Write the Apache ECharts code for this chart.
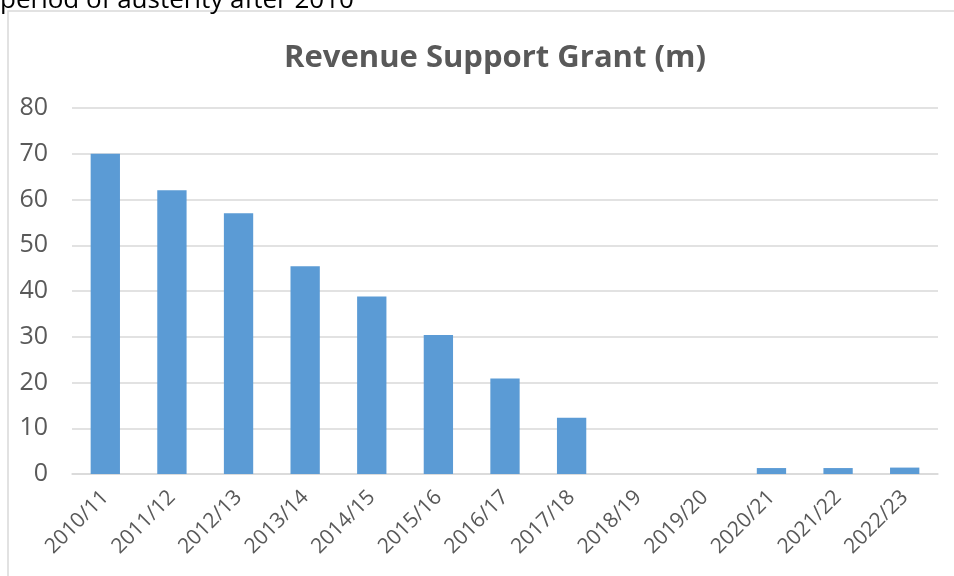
<!DOCTYPE html>
<html>
<head>
<meta charset="utf-8">
<script src="https://cdn.jsdelivr.net/npm/echarts@6/dist/echarts.min.js"></script>
<style>
  html, body { margin: 0; padding: 0; background: #fff; }
  #chart { width: 954px; height: 576px; }
</style>
</head>
<body>
<div id="chart"></div>
<script>
// financial years
var years = ['2010/11', '2011/12', '2012/13', '2013/14', '2014/15', '2015/16', '2016/17',
  '2017/18', '2018/19', '2019/20', '2020/21', '2021/22', '2022/23'];
// revenue support grant, £m
var grant = [70, 62, 57, 45.4, 38.8, 30.4, 20.9, 12.3, 0, 0, 1.3, 1.3, 1.4];
var yTicks = [0, 10, 20, 30, 40, 50, 60, 70, 80];

var chart = echarts.init(document.getElementById('chart'));
var font = 'Open Sans';

chart.setOption({
  animation: false,
  textStyle: { fontFamily: font },
  title: {
    text: 'Revenue Support Grant (m)',
    left: 490,
    top: 38,
    textAlign: 'center',
    textStyle: { fontFamily: font, fontSize: 31, fontWeight: 'bold', color: '#595959' }
  },
  grid: { left: 72, right: 16, top: 108, bottom: 102, containLabel: false, outerBoundsMode: 'none' },
  xAxis: {
    type: 'category',
    data: years,
    axisTick: { show: false },
    axisLine: { lineStyle: { color: '#d9d9d9', width: 1.5 } },
    axisLabel: {
      rotate: 45,
      interval: 0,
      margin: 20,
      fontFamily: font,
      fontSize: 21,
      color: '#595959'
    }
  },
  yAxis: {
    type: 'value',
    min: yTicks[0],
    max: yTicks[yTicks.length - 1],
    interval: 10,
    axisLine: { show: false },
    axisTick: { show: false },
    splitLine: { lineStyle: { color: '#d9d9d9', width: 1.5 } },
    axisLabel: { margin: 24, fontFamily: font, fontSize: 25, color: '#595959' }
  },
  series: [{
    type: 'bar',
    data: grant,
    barWidth: '44%',
    itemStyle: { color: '#5b9bd5' }
  }],
  graphic: [
    {
      type: 'rect',
      shape: { x: 8, y: 11, width: 1000, height: 700 },
      style: { fill: null, stroke: '#d9d9d9', lineWidth: 1.5 },
      z: -1
    },
    {
      type: 'text',
      left: 0,
      top: -12,
      style: { text: 'period of austerity after 2010', fontFamily: font, fontSize: 26, fill: '#000' }
    }
  ]
});
</script>
</body>
</html>
